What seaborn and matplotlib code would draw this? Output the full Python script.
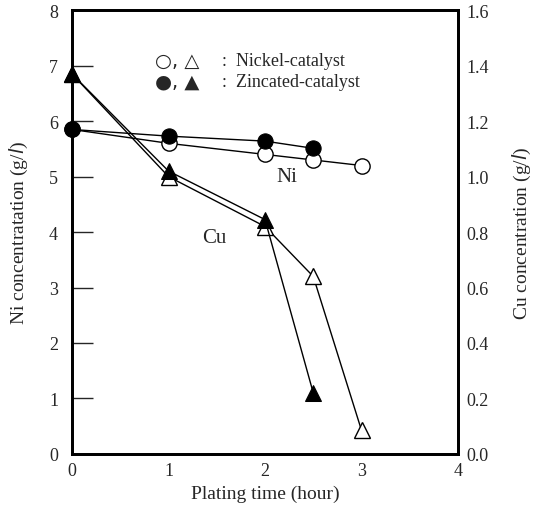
import seaborn as sns
import matplotlib.pyplot as plt
import pandas as pd

# datos
tiempoNi = [0, 1, 2, 2.5, 3]
niNickel = [5.85, 5.6, 5.4, 5.3, 5.2]
tiempoZn = [0, 1, 2, 2.5]
niZinc = [5.85, 5.73, 5.64, 5.51]
cuNickel = [1.37, 1.0, 0.82, 0.64, 0.085]
cuZinc = [1.37, 1.02, 0.845, 0.22]

sns.set_style("white")
plt.rcParams['font.family'] = ['Liberation Serif', 'DejaVu Sans']

fig = plt.figure(figsize=(5.35, 5.1), dpi=100)
ax = fig.add_axes([0.1346, 0.108, 0.7215, 0.870])
ax2 = ax.twinx()

dfNi1 = pd.DataFrame({'t': tiempoNi, 'c': niNickel})
dfNi2 = pd.DataFrame({'t': tiempoZn, 'c': niZinc})
dfCu1 = pd.DataFrame({'t': tiempoNi, 'c': cuNickel})
dfCu2 = pd.DataFrame({'t': tiempoZn, 'c': cuZinc})

sns.lineplot(data=dfNi1, x='t', y='c', ax=ax, color='black', lw=1, marker='o', clip_on=False,
             markersize=11, markerfacecolor='white', markeredgecolor='black', markeredgewidth=1)
sns.lineplot(data=dfNi2, x='t', y='c', ax=ax, color='black', lw=1, marker='o', clip_on=False,
             markersize=11, markerfacecolor='black', markeredgecolor='black')
sns.lineplot(data=dfCu1, x='t', y='c', ax=ax2, color='black', lw=1, marker='^', clip_on=False,
             markersize=12, markerfacecolor='white', markeredgecolor='black', markeredgewidth=1)
sns.lineplot(data=dfCu2, x='t', y='c', ax=ax2, color='black', lw=1, marker='^', clip_on=False,
             markersize=12, markerfacecolor='black', markeredgecolor='black')

ax.set_xlim(0, 4)
ax.set_ylim(0, 8)
ax2.set_ylim(0, 1.6)
ax.set_xticks([0, 1, 2, 3, 4])
ax.set_yticks(range(0, 9))
ax2.set_yticks([0, 0.2, 0.4, 0.6, 0.8, 1.0, 1.2, 1.4, 1.6])
ax2.set_yticklabels(['0.0', '0.2', '0.4', '0.6', '0.8', '1.0', '1.2', '1.4', '1.6'])

ax.tick_params(axis='y', direction='in', length=15, width=1, labelsize=13, pad=10)
ax.tick_params(axis='x', length=0, labelsize=13, pad=6)
ax2.tick_params(axis='y', length=0, labelsize=13, pad=6)

for a in (ax, ax2):
    for s in a.spines.values():
        s.set_linewidth(2)
        s.set_color('black')

ax.set_xlabel('Plating time (hour)', fontsize=14, labelpad=4)
ax.set_ylabel('Ni concentratation (g/$\\it{l}$)', fontsize=14, labelpad=14)
ax2.set_ylabel('Cu concentration (g/$\\it{l}$)', fontsize=14, labelpad=16)

# leyenda escrita a mano
ax.text(0.86, 7.1, '○, △', fontsize=14, va='center', family='DejaVu Sans')
ax.text(0.86, 6.72, '●, ▲', fontsize=14, va='center', family='DejaVu Sans')
ax.text(1.55, 7.1, ':  Nickel-catalyst', fontsize=13, va='center')
ax.text(1.55, 6.72, ':  Zincated-catalyst', fontsize=13, va='center')
ax.text(2.12, 5.0, 'Ni', fontsize=15, va='center')
ax.text(1.35, 3.9, 'Cu', fontsize=15, va='center')

fig.savefig('out.png', dpi=100)
